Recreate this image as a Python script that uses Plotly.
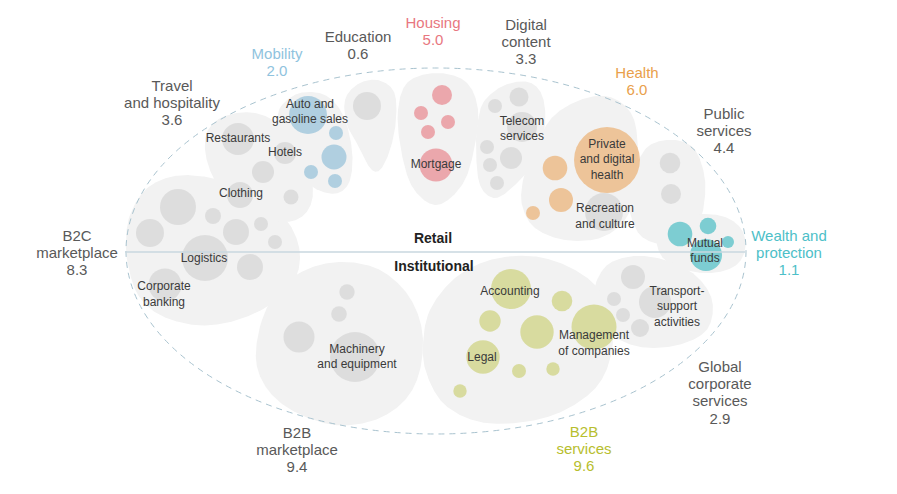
import numpy as np
import plotly.graph_objects as go

W, H = 897, 494
FONT = "Liberation Sans, Arial, sans-serif"

# ---------------- bubble data (pixel-space centres, radius) ----------------
b2c_x = [178, 150, 213, 236, 261, 275, 205, 250, 165]
b2c_y = [207, 233, 216, 232, 224, 242, 258, 267, 285]
b2c_r = [18, 14, 8, 13, 7, 7, 23, 13, 16.5]

travel_x = [238, 285, 263, 240, 291]
travel_y = [139, 153, 172, 195, 197]
travel_r = [16, 11, 11, 13, 7.5]

mobility_x = [308, 336, 334, 311, 335]
mobility_y = [115, 133, 157, 172, 181]
mobility_r = [19, 7, 12.5, 7, 7]

education_x = [367]
education_y = [106]
education_r = [14]

housing_x = [442, 421, 448, 428, 436]
housing_y = [95, 113, 122, 132, 165]
housing_r = [10, 7, 7, 7, 16.5]

digital_x = [519, 495, 522, 487, 511, 490, 497]
digital_y = [97, 106, 127, 147, 158, 165, 183]
digital_r = [9.5, 7, 15, 7, 11, 7, 7]

recreation_x = [604]
recreation_y = [212]
recreation_r = [19]

health_x = [607, 555, 561, 533]
health_y = [160, 168, 200, 213]
health_r = [33, 12.3, 12, 7]

public_x = [670, 671]
public_y = [163, 194]
public_r = [10.3, 10]

wealth_x = [680, 708, 728, 706]
wealth_y = [234, 226, 242, 255]
wealth_r = [12.3, 8.3, 6, 16]

global_x = [633, 614, 623, 655, 640]
global_y = [277, 299, 315, 302, 328]
global_r = [12, 7, 7, 16, 9]

b2bm_x = [347, 339, 299, 355]
b2bm_y = [292, 314, 337, 357]
b2bm_r = [7.7, 7.8, 15.5, 25]

b2bs_x = [511, 562, 490, 537, 594, 483, 519, 553, 460]
b2bs_y = [289, 301, 321, 332, 327, 357, 371, 369, 391]
b2bs_r = [20, 10.3, 10.7, 16.7, 22.5, 16.7, 7, 6.7, 6.7]

# ---------------- blob outlines (control points) ----------------
blob_b2c = [(130, 215), (145, 190), (170, 177), (200, 176), (235, 185), (265, 200), (290, 225),
            (300, 255), (292, 285), (265, 308), (230, 322), (195, 325), (160, 315), (138, 295),
            (128, 265), (126, 240)]
blob_travel = [(208, 130), (225, 116), (255, 113), (285, 128), (305, 158), (313, 192), (305, 214),
               (285, 222), (255, 215), (228, 200), (212, 175), (205, 150)]
blob_mobility = [(282, 105), (300, 93), (325, 95), (343, 115), (352, 150), (350, 180), (338, 193),
                 (318, 190), (300, 175), (285, 145), (278, 120)]
blob_education = [(345, 100), (358, 84), (378, 80), (394, 92), (396, 120), (390, 150), (380, 170),
                  (370, 168), (358, 145), (347, 125)]
blob_housing = [(398, 110), (408, 82), (437, 73), (466, 82), (478, 110), (474, 150), (462, 185),
                (437, 205), (413, 188), (401, 150)]
blob_digital = [(485, 100), (505, 85), (528, 82), (542, 95), (545, 125), (535, 160), (515, 185),
                (495, 198), (480, 185), (476, 150), (478, 120)]
blob_health = [(530, 160), (550, 120), (580, 100), (610, 97), (632, 115), (638, 150), (635, 190),
               (625, 220), (600, 238), (565, 240), (535, 228), (522, 205), (523, 180)]
blob_public = [(635, 165), (650, 145), (675, 140), (695, 150), (705, 180), (702, 215), (690, 240),
               (665, 245), (640, 235), (628, 205), (628, 180)]
blob_wealth = [(660, 230), (675, 218), (700, 214), (725, 217), (742, 230), (745, 250), (735, 266),
               (712, 273), (685, 270), (665, 260), (657, 245)]
blob_global = [(597, 280), (610, 263), (635, 256), (665, 260), (695, 275), (712, 300), (708, 328),
               (685, 343), (650, 348), (620, 340), (600, 320), (594, 300)]
blob_b2bm = [(262, 320), (280, 288), (310, 268), (345, 262), (380, 270), (408, 295), (422, 330),
             (420, 370), (405, 400), (375, 420), (335, 425), (295, 412), (268, 390), (256, 360)]
blob_b2bs = [(430, 310), (455, 278), (490, 260), (530, 256), (565, 265), (595, 285), (610, 315),
             (612, 350), (598, 385), (565, 410), (525, 422), (480, 422), (445, 405), (427, 375),
             (423, 345)]

# ---------------- labels ----------------
cat_text = [["Travel", "and hospitality", "3.6"], ["Mobility", "2.0"], ["Education", "0.6"],
            ["Housing", "5.0"], ["Digital", "content", "3.3"], ["Health", "6.0"],
            ["Public", "services", "4.4"], ["Wealth and", "protection", "1.1"],
            ["Global", "corporate", "services", "2.9"], ["B2B", "services", "9.6"],
            ["B2B", "marketplace", "9.4"], ["B2C", "marketplace", "8.3"]]
cat_x = [172, 277, 358, 433, 526, 637, 724, 789, 720, 584, 297, 77]
cat_ytop = [87, 55, 38, 24, 26, 74, 115, 237, 368, 433, 434, 237]

inner_text = ["Auto and<br>gasoline sales", "Restaurants", "Hotels", "Clothing", "Mortgage",
              "Telecom<br>services", "Private<br>and digital<br>health", "Recreation<br>and culture",
              "Mutual<br>funds", "Logistics", "Corporate<br>banking", "Machinery<br>and equipment",
              "Accounting", "Management<br>of companies", "Legal", "Transport-<br>support<br>activities"]
inner_x = [310, 238, 285, 241, 436, 522, 607, 605, 705, 204, 164, 357, 510, 594, 482, 677]
inner_y = [112.5, 139, 153, 194, 165, 129.5, 160.5, 217, 251.5, 259, 295, 357.5, 292, 344, 358, 307.5]

GREY = "#d4d4d4"
BLOB = "#f2f2f2"
C_BLUE, C_RED, C_ORANGE, C_TEAL, C_OLIVE = "#94c1d8", "#e8878f", "#ebb073", "#4cbdc5", "#cdd27c"
T_DARK = "#595959"
cat_colors = [T_DARK, "#8fc3de", T_DARK, "#e8777f", T_DARK, "#e9a04b", T_DARK, "#4dc0c8",
              T_DARK, "#b7be2e", T_DARK, T_DARK]


def smooth_closed(pts, n=24):
    P = np.array(pts, float)
    N = len(P)
    out = []
    for i in range(N):
        p0, p1, p2, p3 = P[(i - 1) % N], P[i], P[(i + 1) % N], P[(i + 2) % N]
        for t in np.linspace(0, 1, n, endpoint=False):
            t2, t3 = t * t, t * t * t
            out.append(0.5 * ((2 * p1) + (-p0 + p2) * t + (2 * p0 - 5 * p1 + 4 * p2 - p3) * t2
                              + (-p0 + 3 * p1 - 3 * p2 + p3) * t3))
    out.append(out[0])
    return np.array(out)


fig = go.Figure()

for blob in [blob_b2c, blob_travel, blob_mobility, blob_education, blob_housing, blob_digital,
             blob_health, blob_public, blob_wealth, blob_global, blob_b2bm, blob_b2bs]:
    c = smooth_closed(blob)
    fig.add_trace(go.Scatter(x=c[:, 0], y=c[:, 1], mode="lines", fill="toself",
                             fillcolor=BLOB, line=dict(width=0), hoverinfo="skip"))

bubble_sets = [
    (b2c_x, b2c_y, b2c_r, GREY), (travel_x, travel_y, travel_r, GREY),
    (mobility_x, mobility_y, mobility_r, C_BLUE), (education_x, education_y, education_r, GREY),
    (housing_x, housing_y, housing_r, C_RED), (digital_x, digital_y, digital_r, GREY),
    (recreation_x, recreation_y, recreation_r, GREY), (health_x, health_y, health_r, C_ORANGE),
    (public_x, public_y, public_r, GREY), (wealth_x, wealth_y, wealth_r, C_TEAL),
    (global_x, global_y, global_r, GREY), (b2bm_x, b2bm_y, b2bm_r, GREY),
    (b2bs_x, b2bs_y, b2bs_r, C_OLIVE),
]
for bx, by, br, col in bubble_sets:
    fig.add_trace(go.Scatter(x=bx, y=by, mode="markers",
                             marker=dict(size=[2 * r for r in br], color=col, line=dict(width=0)),
                             hoverinfo="skip"))

# inner labels
fig.add_trace(go.Scatter(x=inner_x, y=inner_y, mode="text", text=inner_text,
                         textposition="middle center",
                         textfont=dict(family=FONT, size=12, color="#3a3a3a"), hoverinfo="skip"))

# category labels, line by line
LS = 17.3
lx, ly, lt, lc = [], [], [], []
for lines, x0, y0, col in zip(cat_text, cat_x, cat_ytop, cat_colors):
    for k, s in enumerate(lines):
        lx.append(x0)
        ly.append(y0 + k * LS)
        lt.append(s)
        lc.append(col)
fig.add_trace(go.Scatter(x=lx, y=ly, mode="text", text=lt, textposition="middle center",
                         textfont=dict(family=FONT, size=15, color=lc), hoverinfo="skip"))

fig.add_trace(go.Scatter(x=[433, 434], y=[239, 267], mode="text", text=["Retail", "Institutional"],
                         textposition="middle center",
                         textfont=dict(family=FONT, size=14, color="#222222", weight="bold"),
                         hoverinfo="skip"))

fig.add_shape(type="circle", xref="x", yref="y", x0=126, x1=746, y0=68, y1=434,
              line=dict(color="#a9c3cf", width=1, dash="6px,5px"))
fig.add_shape(type="line", xref="x", yref="y", x0=125, x1=745, y0=252, y1=252,
              line=dict(color="#c8d7df", width=1.5))

fig.update_layout(width=W, height=H, margin=dict(l=0, r=0, t=0, b=0),
                  paper_bgcolor="white", plot_bgcolor="white", showlegend=False)
fig.update_xaxes(range=[0, W], visible=False, fixedrange=True)
fig.update_yaxes(range=[H, 0], visible=False, fixedrange=True)

fig.write_html("out.html", config={"displayModeBar": False},
               post_script="document.body.style.margin='0';document.body.style.overflow='hidden';")
